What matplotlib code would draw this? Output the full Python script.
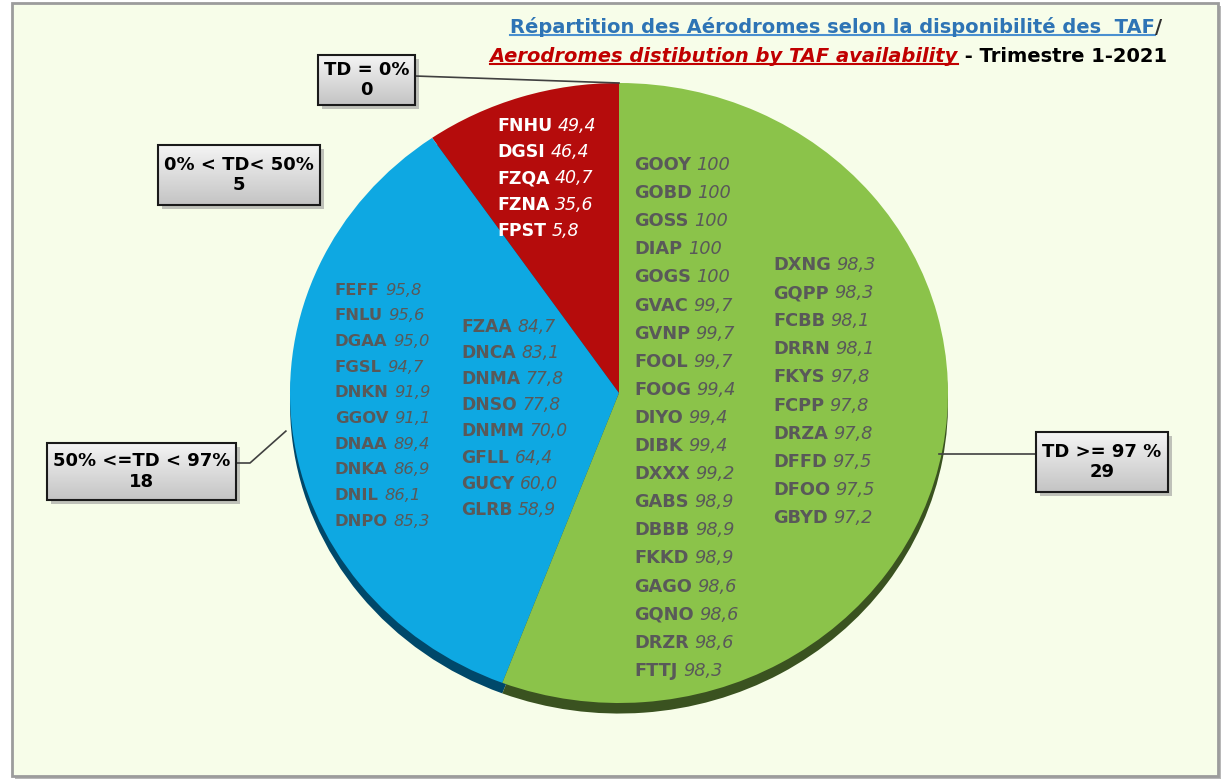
import numpy as np
import matplotlib
matplotlib.use("Agg")
import matplotlib.pyplot as plt
from matplotlib.patches import Rectangle
from matplotlib.lines import Line2D
from matplotlib.colors import LinearSegmentedColormap

# ---------------- data ----------------
categories = ["TD = 0%", "0% < TD< 50%", "50% <=TD < 97%", "TD >= 97 %"]
counts = [0, 5, 18, 29]

red_names = ["FNHU", "DGSI", "FZQA", "FZNA", "FPST"]
red_vals = ["49,4", "46,4", "40,7", "35,6", "5,8"]

blue_names_1 = ["FEFF", "FNLU", "DGAA", "FGSL", "DNKN", "GGOV", "DNAA", "DNKA", "DNIL", "DNPO"]
blue_vals_1 = ["95,8", "95,6", "95,0", "94,7", "91,9", "91,1", "89,4", "86,9", "86,1", "85,3"]
blue_names_2 = ["FZAA", "DNCA", "DNMA", "DNSO", "DNMM", "GFLL", "GUCY", "GLRB"]
blue_vals_2 = ["84,7", "83,1", "77,8", "77,8", "70,0", "64,4", "60,0", "58,9"]

green_names_1 = ["GOOY", "GOBD", "GOSS", "DIAP", "GOGS", "GVAC", "GVNP", "FOOL", "FOOG", "DIYO",
                 "DIBK", "DXXX", "GABS", "DBBB", "FKKD", "GAGO", "GQNO", "DRZR", "FTTJ"]
green_vals_1 = ["100", "100", "100", "100", "100", "99,7", "99,7", "99,7", "99,4", "99,4",
                "99,4", "99,2", "98,9", "98,9", "98,9", "98,6", "98,6", "98,6", "98,3"]
green_names_2 = ["DXNG", "GQPP", "FCBB", "DRRN", "FKYS", "FCPP", "DRZA", "DFFD", "DFOO", "GBYD"]
green_vals_2 = ["98,3", "98,3", "98,1", "98,1", "97,8", "97,8", "97,8", "97,5", "97,5", "97,2"]

title_fr = "Répartition des Aérodromes selon la disponibilité des  TAF"
title_en = "Aerodromes distibution by TAF availability"
title_tail = " - Trimestre 1-2021"

# ---------------- style ----------------
colors = ["#7F7F7F", "#B50C0C", "#0EA8E2", "#8BC34A"]
dark = ["#555555", "#5A0505", "#00486A", "#3A5220"]
W, H = 1226, 779
plt.rcParams["font.family"] = ["DejaVu Sans"]

fig = plt.figure(figsize=(W / 100, H / 100), dpi=100)
fig.patch.set_facecolor("white")

# background frame
bg = fig.add_axes([0, 0, 1, 1], zorder=0)
bg.set_xlim(0, W); bg.set_ylim(H, 0); bg.axis("off")
bg.add_patch(Rectangle((15, 6), 1206, 773, facecolor="#B8B8B8", edgecolor="none"))
bg.add_patch(Rectangle((12, 3), 1206, 773, facecolor="#F7FDE9", edgecolor="#9C9C9C", lw=2))

# pie axes (slightly elliptical)
cx, cy, rx, ry = 619, 393, 329, 310
L = 1.1
pax = fig.add_axes([(cx - rx * L) / W, 1 - (cy + ry * L) / H, 2 * rx * L / W, 2 * ry * L / H], zorder=1)
pax.pie(counts, colors=dark, startangle=90, counterclock=True, center=(0, -0.034),
        wedgeprops=dict(linewidth=0))
wedges, _ = pax.pie(counts, colors=colors, startangle=90, counterclock=True,
                    wedgeprops=dict(linewidth=0))
pax.set_aspect("auto")
pax.set_xlim(-L, L); pax.set_ylim(-L, L)
pax.axis("off")

# overlay axes in pixel coordinates
ov = fig.add_axes([0, 0, 1, 1], zorder=2)
ov.set_xlim(0, W); ov.set_ylim(H, 0); ov.axis("off")
ov.patch.set_alpha(0)


def pie_to_px(theta_deg, r=1.0):
    t = np.deg2rad(theta_deg)
    disp = pax.transData.transform((r * np.cos(t), r * np.sin(t)))
    return ov.transData.inverted().transform(disp)


# ---------------- column labels inside slices ----------------
def column(names, vals, x, y0, dy, color, size):
    for i, (n, v) in enumerate(zip(names, vals)):
        t = ov.text(x, y0 + i * dy, n, fontweight="bold", color=color, fontsize=size,
                    ha="left", va="center")
        ov.annotate(v, xy=(1, 0.5), xycoords=t, xytext=(4, 0), textcoords="offset points",
                    ha="left", va="center", style="italic", color=color, fontsize=size)


column(red_names, red_vals, 497, 126, 26.2, "white", 12.5)
column(blue_names_1, blue_vals_1, 335, 290, 25.7, "#595959", 11.8)
column(blue_names_2, blue_vals_2, 461, 327, 26.1, "#595959", 12.3)
column(green_names_1, green_vals_1, 634, 165, 28.1, "#595959", 12.8)
column(green_names_2, green_vals_2, 773, 265, 28.1, "#595959", 12.8)

# ---------------- callout boxes ----------------
grad = LinearSegmentedColormap.from_list("g", ["#F4F4F4", "#C4C4C4"])
boxes = {
    0: (318, 55, 97, 50),
    1: (158, 145, 162, 60),
    2: (47, 443, 189, 57),
    3: (1036, 432, 132, 60),
}
for i, (x0, y0, w, h) in boxes.items():
    ov.add_patch(Rectangle((x0 + 4, y0 + 4), w, h, facecolor="#9A9A9A", edgecolor="none", alpha=0.6))
    ov.imshow(np.linspace(0, 1, 64)[:, None], cmap=grad, extent=[x0, x0 + w, y0 + h, y0],
              aspect="auto", zorder=3)
    ov.add_patch(Rectangle((x0, y0), w, h, facecolor="none", edgecolor="#1A1A1A", lw=1.5, zorder=4))
    ov.text(x0 + w / 2, y0 + h / 2, f"{categories[i]}\n{counts[i]}", ha="center", va="center",
            fontweight="bold", fontsize=13, color="black", linespacing=1.15, zorder=5)

ov.set_xlim(0, W); ov.set_ylim(H, 0)

# leader lines
lc = dict(color="#404040", lw=1.2, zorder=2)
# TD = 0%
p = pie_to_px((wedges[0].theta1 + wedges[0].theta2) / 2)
ov.add_line(Line2D([415, p[0]], [76, p[1]], **lc))
# 50% <= TD < 97%
p = pie_to_px((wedges[2].theta1 + wedges[2].theta2) / 2, 1.02)
ov.add_line(Line2D([236, 250, p[0]], [463, 463, p[1]], **lc))
# TD >= 97%
p = pie_to_px((wedges[3].theta1 + wedges[3].theta2) / 2, 0.99)
ov.add_line(Line2D([1036, p[0]], [p[1] + 6, p[1] + 6], **lc))

# ---------------- title ----------------
tsize = 14
t1b = ov.text(1162, 27, "/", ha="right", va="center", fontweight="bold", fontsize=tsize, color="#303030")
t1a = ov.annotate(title_fr, xy=(0, 0.5), xycoords=t1b, ha="right", va="center",
                  fontweight="bold", fontsize=tsize, color="#2E74B5")
t2b = ov.text(1167, 56, title_tail, ha="right", va="center", fontweight="bold", fontsize=tsize, color="black")
t2a = ov.annotate(title_en, xy=(0, 0.5), xycoords=t2b, ha="right", va="center",
                  fontweight="bold", style="italic", fontsize=tsize, color="#C00000")

fig.canvas.draw()
r = fig.canvas.get_renderer()
inv = ov.transData.inverted()
for t, c in ((t1a, "#4A90D0"), (t2a, "#C00000")):
    bb = t.get_window_extent(r)
    (xa, ya), (xb, yb) = inv.transform([(bb.x0, bb.y0 + 2), (bb.x1, bb.y0 + 2)])
    ov.add_line(Line2D([xa, xb], [ya, yb], color=c, lw=1.5))

fig.savefig("out.png", dpi=100, facecolor=fig.get_facecolor())
